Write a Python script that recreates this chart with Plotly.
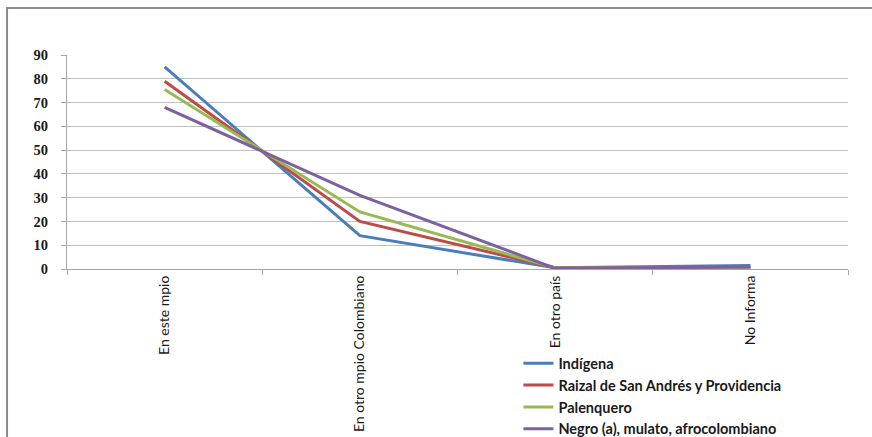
import plotly.graph_objects as go

categories = ["En este mpio", "En otro mpio Colombiano", "En otro país", "No Informa"]
indigena = [85, 14, 0.5, 1.5]
raizal = [79, 20, 0.5, 0.5]
palenquero = [75.5, 24, 0.5, 0.3]
negro = [68, 31, 0.3, 0.8]

series = [
    ("Indígena", indigena, "#4A7EBB"),
    ("Raizal de San Andrés y Providencia", raizal, "#BE4B48"),
    ("Palenquero", palenquero, "#98B954"),
    ("Negro (a), mulato, afrocolombiano", negro, "#7D60A0"),
]

fig = go.Figure()
for name, vals, color in series:
    fig.add_trace(go.Scatter(x=categories, y=vals, mode="lines", name=name,
                             line=dict(color=color, width=3)))

fig.update_layout(
    width=872, height=437,
    margin=dict(l=67, r=24, t=55, b=168, autoexpand=False),
    paper_bgcolor="white", plot_bgcolor="white",
    showlegend=True,
    legend=dict(x=0.578, y=-0.366, xanchor="left", yanchor="top",
                font=dict(family="Lato", size=14.5, color="#1a1a1a", weight="bold"),
                bgcolor="rgba(0,0,0,0)", tracegroupgap=0),
    xaxis=dict(type="category", showgrid=False, showline=True, linecolor="#a6a6a6",
               linewidth=1, ticks="outside", tickson="boundaries", ticklen=5,
               tickcolor="#a6a6a6", tickangle=-90, automargin=False,
               tickfont=dict(family="Lato", size=14, color="#1a1a1a"),
               range=[-0.5, 3.5]),
    yaxis=dict(range=[0, 90], dtick=10, showgrid=True, gridcolor="#bfbfbf",
               showline=True, linecolor="#a6a6a6", ticks="outside", ticklen=5,
               tickcolor="#a6a6a6", zeroline=False, automargin=False,
               ticklabelstandoff=10,
               tickfont=dict(family="Liberation Serif", size=14.5, color="#1a1a1a",
                             weight="bold"),
               ),
)
fig.add_shape(type="rect", xref="paper", yref="paper",
              x0=-0.0768, x1=1.1, y0=-1.0, y1=1.2196,
              line=dict(color="#8c8c8c", width=2), fillcolor="rgba(0,0,0,0)", layer="below")

fig.write_html("out.html", config={"displayModeBar": False},
               post_script="document.body.style.margin='0';document.body.style.overflow='hidden';")
